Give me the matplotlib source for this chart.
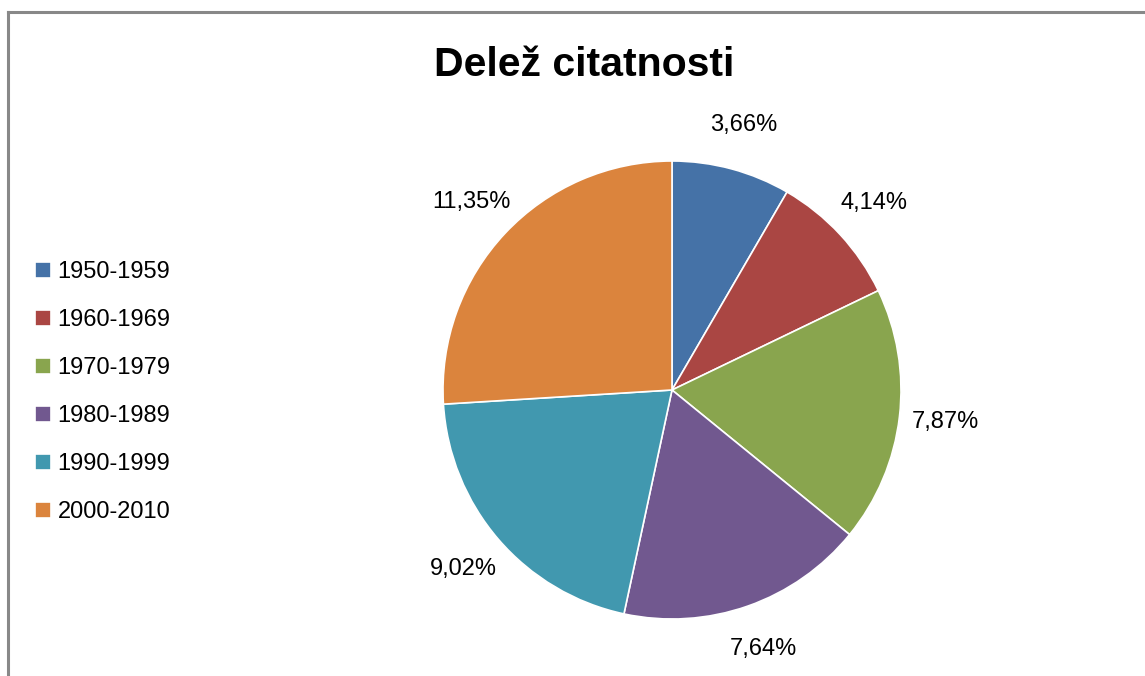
import matplotlib
matplotlib.use("Agg")
import matplotlib.pyplot as plt
from matplotlib.lines import Line2D

plt.rcParams['font.family'] = ['Liberation Sans', 'DejaVu Sans']

categories = ["1950-1959", "1960-1969", "1970-1979", "1980-1989", "1990-1999", "2000-2010"]
values = [3.66, 4.14, 7.87, 7.64, 9.02, 11.35]
value_labels = ["3,66%", "4,14%", "7,87%", "7,64%", "9,02%", "11,35%"]
colors = ["#4572A7", "#AA4643", "#89A54E", "#71588F", "#4198AF", "#DB843D"]

W, H = 1145, 676
fig = plt.figure(figsize=(W / 100, H / 100), dpi=100)

cx, cy, r = 672, 390, 229
ax = fig.add_axes([(cx - r) / W, (H - cy - r) / H, 2 * r / W, 2 * r / H])
wedges, texts = ax.pie(values, labels=value_labels, colors=colors, startangle=90,
                       counterclock=False, labeldistance=1.2,
                       wedgeprops=dict(linewidth=1.2, edgecolor='white'),
                       textprops=dict(fontsize=17, color='#000000'))
for t in texts:
    t.set_ha('center')
    t.set_va('center')
ax.set_xlim(-1, 1)
ax.set_ylim(-1, 1)
ax.set_aspect('equal')

fig.text(584 / W, 1 - 65 / H, "Delež citatnosti", ha='center', va='center',
         fontsize=29.5, fontweight='bold')

leg = fig.legend(wedges, categories, loc='upper left', bbox_to_anchor=(26 / W, 1 - 252 / H),
                 frameon=False, fontsize=17, handlelength=0.64, handleheight=0.64,
                 handletextpad=0.3, labelspacing=1.1, borderaxespad=0)

# chart border (top and left visible)
fig.add_artist(Line2D([8 / W, 8 / W], [0, 1 - 12 / H], color='#888888', lw=2.2,
                      transform=fig.transFigure))
fig.add_artist(Line2D([8 / W, 1], [1 - 12 / H, 1 - 12 / H], color='#888888', lw=2.2,
                      transform=fig.transFigure))

fig.savefig("out.png", dpi=100)
